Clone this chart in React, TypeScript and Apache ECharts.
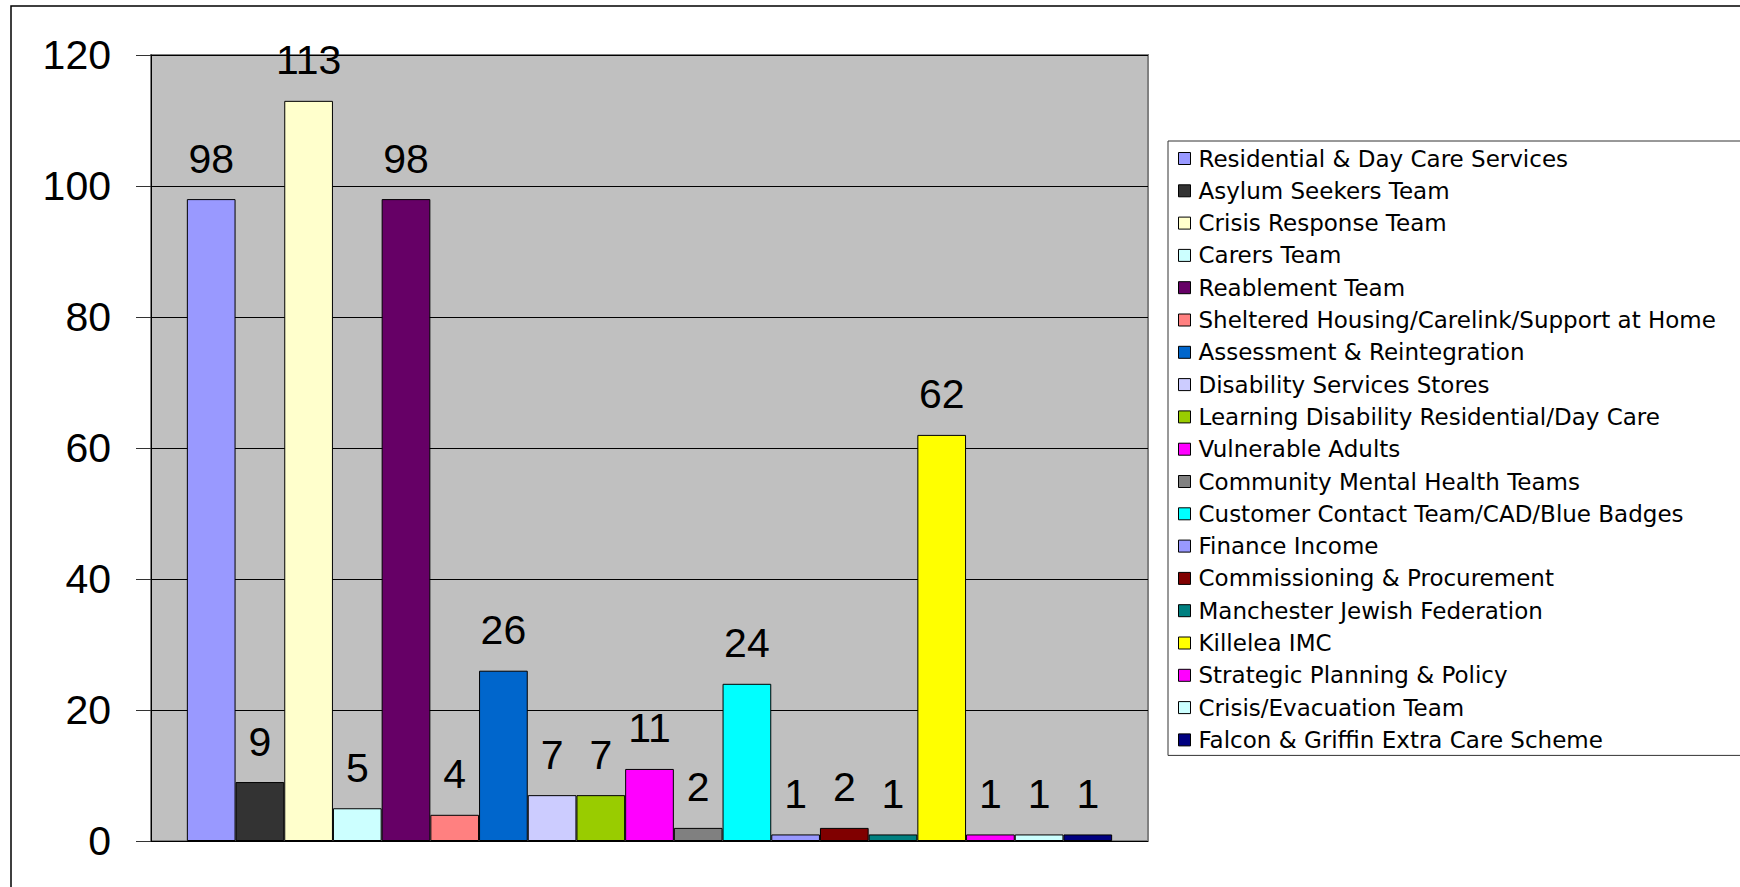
import React, { useEffect, useRef } from "react";
import * as echarts from "echarts";

const categories = [""];
const seriesNames = [
  "Residential & Day Care Services",
  "Asylum Seekers Team",
  "Crisis Response Team",
  "Carers Team",
  "Reablement Team",
  "Sheltered Housing/Carelink/Support at Home",
  "Assessment & Reintegration",
  "Disability Services Stores",
  "Learning Disability Residential/Day Care",
  "Vulnerable Adults",
  "Community Mental Health Teams",
  "Customer Contact Team/CAD/Blue Badges",
  "Finance Income",
  "Commissioning & Procurement",
  "Manchester Jewish Federation",
  "Killelea IMC",
  "Strategic Planning & Policy",
  "Crisis/Evacuation Team",
  "Falcon & Griffin Extra Care Scheme",
];
const seriesValues = [98, 9, 113, 5, 98, 4, 26, 7, 7, 11, 2, 24, 1, 2, 1, 62, 1, 1, 1];
const seriesColors = [
  "#9999FF", "#333333", "#FFFFCC", "#CCFFFF", "#660066", "#FF8080", "#0066CC",
  "#CCCCFF", "#99CC00", "#FF00FF", "#808080", "#00FFFF", "#9999FF", "#800000",
  "#008080", "#FFFF00", "#FF00FF", "#CCFFFF", "#000080",
];
const yMin = 0;
const yMax = 120;
const yInterval = 20;

export default function App() {
  const ref = useRef<HTMLDivElement>(null);
  useEffect(() => {
    if (!ref.current) return;
    const chart = echarts.init(ref.current, undefined, { renderer: "svg" });
    chart.setOption({
      animation: false,
      backgroundColor: "#ffffff",
      grid: {
        left: 151,
        top: 55,
        width: 997,
        height: 786,
        show: true,
        backgroundColor: "#C0C0C0",
        borderColor: "#808080",
        borderWidth: 2,
      },
      graphic: [
        {
          type: "rect",
          z: -10,
          shape: { x: 11, y: 6, width: 1800, height: 1000 },
          style: { fill: "none", stroke: "#000", lineWidth: 1.5 },
        },
      ],
      legend: {
        orient: "vertical",
        left: 1168,
        top: 141,
        padding: [6, 60, 4, 10],
        itemWidth: 12,
        itemHeight: 12,
        itemGap: 9.3,
        icon: "rect",
        backgroundColor: "#ffffff",
        borderColor: "#333333",
        borderWidth: 1,
        itemStyle: { borderColor: "#000", borderWidth: 1 },
        textStyle: {
          fontFamily: "DejaVu Sans",
          fontSize: 23,
          lineHeight: 23,
          color: "#000",
          padding: [0, 0, 0, 3],
        },
        data: seriesNames,
      },
      xAxis: {
        type: "category",
        data: categories,
        axisLine: { show: false },
        axisTick: { show: false },
        axisLabel: { show: false },
      },
      yAxis: {
        type: "value",
        min: yMin,
        max: yMax,
        interval: yInterval,
        axisLine: { show: true, lineStyle: { color: "#000", width: 1 } },
        axisTick: { show: true, length: 15, lineStyle: { color: "#333" } },
        axisLabel: {
          margin: 40,
          fontFamily: "Liberation Sans",
          fontSize: 41,
          color: "#000",
        },
        splitLine: { show: true, lineStyle: { color: "#000", width: 1 } },
      },
      series: seriesNames.map((name, i) => ({
        type: "bar",
        name,
        data: [seriesValues[i]],
        barWidth: 48.7,
        barGap: "0%",
        itemStyle: { color: seriesColors[i], borderColor: "#000", borderWidth: 1 },
        label: {
          show: true,
          position: "top",
          distance: 20,
          fontFamily: "Liberation Sans",
          fontSize: 41,
          color: "#000",
        },
      })),
    });
    return () => chart.dispose();
  }, []);
  return (
    <div
      ref={ref}
      style={{ position: "fixed", left: 0, top: 0, width: 1740, height: 887 }}
    />
  );
}
